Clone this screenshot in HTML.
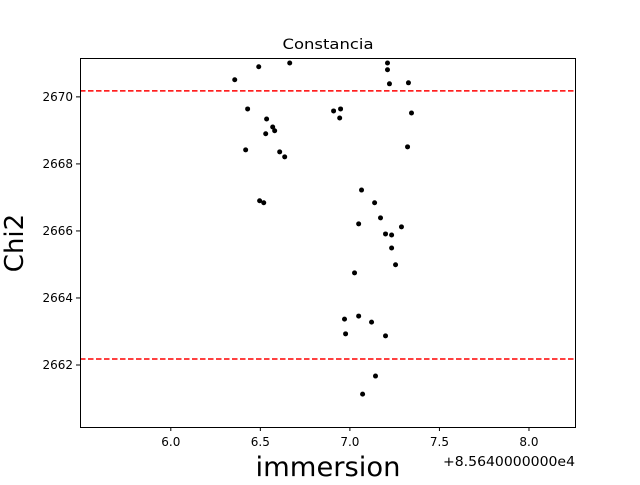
<!DOCTYPE html>
<html><head><meta charset="utf-8"><style>
body{margin:0;background:#fff;}
svg{font-family:"DejaVu Sans","Liberation Sans",sans-serif;}
</style></head><body>
<svg id="chart" width="640" height="480" xmlns="http://www.w3.org/2000/svg">
<rect width="640" height="480" fill="#fff"/>
<g id="marks"></g>
<rect x="80.5" y="58.5" width="495" height="369" fill="none" stroke="#000" stroke-width="1"/>
<g id="axes"></g>
<text x="328" y="49" font-size="14.5" textLength="91" lengthAdjust="spacingAndGlyphs" text-anchor="middle">Constancia</text>
<text x="328" y="476" font-size="27" textLength="145" lengthAdjust="spacingAndGlyphs" text-anchor="middle">immersion</text>
<text transform="translate(23,243) rotate(-90)" font-size="26" text-anchor="middle">Chi2</text>
<text x="575" y="466" font-size="13" textLength="132" lengthAdjust="spacingAndGlyphs" text-anchor="end">+8.5640000000e4</text>
</svg>
<script>
const xTicks=[6.0,6.5,7.0,7.5,8.0];
const xTickLabels=["6.0","6.5","7.0","7.5","8.0"];
const yTicks=[2662,2664,2666,2668,2670];
const yTickLabels=["2662","2664","2666","2668","2670"];
const refLines=[2670.18,2662.18];
const xVals=[6.357,6.491,6.664,7.210,7.210,7.221,7.327,6.429,6.535,6.569,6.580,6.530,6.418,6.608,6.636,6.909,6.948,6.943,7.344,7.322,7.065,7.138,7.171,7.049,7.288,7.199,7.233,7.233,7.255,7.026,6.496,6.519,7.049,6.970,7.121,6.976,7.199,7.143,7.071];
const yVals=[2670.51,2670.90,2671.01,2671.01,2670.81,2670.39,2670.42,2669.64,2669.34,2669.10,2668.99,2668.90,2668.42,2668.36,2668.21,2669.58,2669.64,2669.37,2669.52,2668.51,2667.22,2666.84,2666.39,2666.21,2666.12,2665.91,2665.88,2665.49,2664.99,2664.75,2666.90,2666.84,2663.46,2663.37,2663.28,2662.93,2662.87,2661.67,2661.13];
const X0=80,X1=575,Y0=58,Y1=427;
const xMin=5.493,xMax=8.257,yMin=2660.15,yMax=2671.16;
const sx=v=>X0+(v-xMin)/(xMax-xMin)*(X1-X0);
const sy=v=>Y1-(v-yMin)/(yMax-yMin)*(Y1-Y0);
const NS="http://www.w3.org/2000/svg";
const marks=document.getElementById('marks'),axes=document.getElementById('axes');
function mk(t,a,p){const e=document.createElementNS(NS,t);for(const k in a)e.setAttribute(k,a[k]);p.appendChild(e);return e;}
refLines.forEach((v,i)=>{
 const l=mk('line',{x1:X0,x2:X1,y1:sy(v),y2:sy(v),stroke:'#ff0000','stroke-width':1.5,'stroke-dasharray':'5.5,2.5'},marks);
 
 
});
xVals.forEach((x,i)=>{
 const c=mk('circle',{cx:sx(x),cy:sy(yVals[i]),r:2.5,fill:'#000'},marks);
 
 
});
xTicks.forEach((v,i)=>{
 const x=sx(v);
 const t=mk('line',{x1:x,x2:x,y1:Y1,y2:Y1+4,stroke:'#000'},axes);
 
 
 const s=mk('text',{x:x,y:Y1+19,'font-size':12,'text-anchor':'middle'},axes);
 s.textContent=xTickLabels[i];
 
 
});
yTicks.forEach((v,i)=>{
 const y=sy(v);
 const t=mk('line',{x1:X0-4,x2:X0,y1:y,y2:y,stroke:'#000'},axes);
 
 
 const s=mk('text',{x:X0-7,y:y+4,'font-size':12,'text-anchor':'end'},axes);
 s.textContent=yTickLabels[i];
 
 
});
</script>
</body></html>
